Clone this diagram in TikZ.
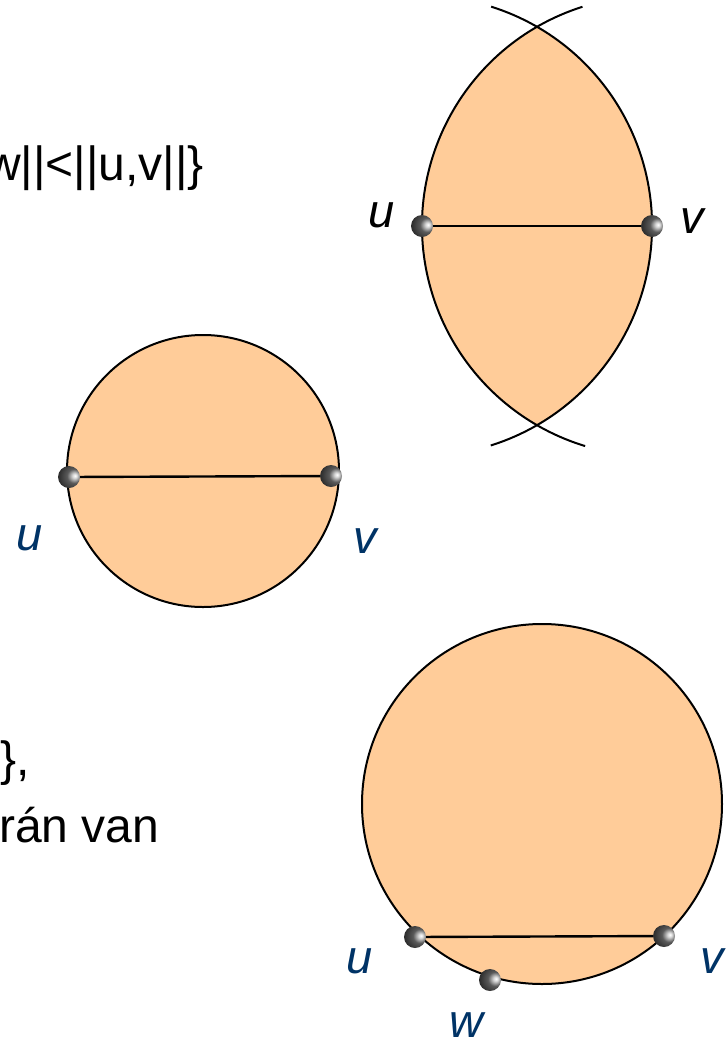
\documentclass[tikz,border=0pt]{standalone}
\usepackage{fontspec}
\setmainfont{Liberation Sans}
\definecolor{peach}{HTML}{FFCC99}
\definecolor{lblue}{HTML}{003366}
\pgfdeclareradialshading{sphere}{\pgfpoint{14bp}{3bp}}{color(0bp)=(white); color(5bp)=(white!85!black); color(16bp)=(black!65); color(32bp)=(black!82); color(80bp)=(black!88)}
\begin{document}
\begin{tikzpicture}[x=1pt,y=-1pt,
  pt/.style={circle, minimum size=22pt, inner sep=0pt, shade, shading=sphere},
  lbl/.style={font=\fontsize{47}{50}\selectfont\itshape, anchor=base, inner sep=0pt},
  txt/.style={font=\fontsize{48}{56}\selectfont, inner sep=0pt},
  edge/.style={line width=2.4pt},
  bound/.style={line width=2pt}]
\useasboundingbox (0,0) rectangle (728,1045);

% texts
\node[txt, anchor=base east] (t1) at (204,180) {w||<||u,v||\}};
\node[txt, anchor=base west] (t2) at (0,775) {\},};
\node[txt, anchor=base west] (t3) at (-1,842) {rán van};

% lens (top right)
\coordinate (cu) at (422,226);
\coordinate (cv) at (652,226);
\begin{scope}
  \clip (cv) circle (230pt);
  \fill[peach] (cu) circle (230pt);
\end{scope}
\draw[bound] (cv) ++(107.6:230pt) arc[start angle=107.6, end angle=253.1, radius=230pt];
\draw[bound] (cu) ++(72.5:230pt) arc[start angle=72.5, end angle=-72.6, radius=230pt];
\node[pt] (u1) at (cu) {};
\node[pt] (v1) at (cv) {};
\draw[edge] (u1) -- (v1);
\node[lbl] (lu1) at (382,227) {u};
\node[lbl] (lv1) at (692,233) {v};

% middle circle
\coordinate (c2) at (203,471);
\fill[peach, draw=black, bound] (c2) circle (136pt);
\node[pt] (u2) at (69,477) {};
\node[pt] (v2) at (331,476) {};
\draw[edge] (u2) -- (v2);
\node[lbl, text=lblue] (lu2) at (30,550) {u};
\node[lbl, text=lblue] (lv2) at (365,553) {v};

% bottom circle
\coordinate (c3) at (542,804);
\fill[peach, draw=black, bound] (c3) circle (180pt);
\node[pt] (u3) at (415,937) {};
\node[pt] (v3) at (664,936) {};
\node[pt] (w3) at (490,980) {};
\draw[edge] (u3) -- (v3);
\node[lbl, text=lblue] (lu3) at (360,973) {u};
\node[lbl, text=lblue] (lv3) at (712,973) {v};
\node[lbl, text=lblue] (lw3) at (466,1037) {w};
\end{tikzpicture}
\end{document}
